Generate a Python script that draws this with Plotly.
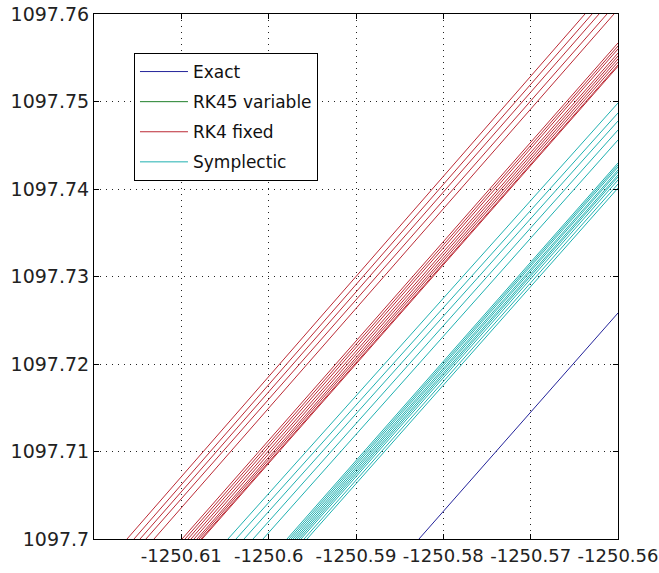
import plotly.graph_objects as go

# Axis ticks
x_tick_vals = [-1250.61, -1250.60, -1250.59, -1250.58, -1250.57, -1250.56]
x_tick_text = ["-1250.61", "-1250.6", "-1250.59", "-1250.58", "-1250.57", "-1250.56"]
y_tick_vals = [1097.70, 1097.71, 1097.72, 1097.73, 1097.74, 1097.75, 1097.76]
y_tick_text = ["1097.7", "1097.71", "1097.72", "1097.73", "1097.74", "1097.75", "1097.76"]

# Exact (one pass through the window): start/end points of segments
exact_x0 = [-1250.58279]
exact_y0 = [1097.70]
exact_x1 = [-1250.56]
exact_y1 = [1097.72583]

# RK45 variable: no pass visible inside this window
rk45_x0, rk45_y0, rk45_x1, rk45_y1 = [None], [None], [None], [None]

# RK4 fixed: passes through the window
rk4_x0 = [-1250.61622, -1250.61542, -1250.61473, -1250.61405, -1250.61313,
          -1250.60992, -1250.60958, -1250.60924, -1250.60889, -1250.60855,
          -1250.60821, -1250.60798, -1250.60775, -1250.60762]
rk4_y0 = [1097.70] * 14
rk4_x1 = [-1250.56378, -1250.56297, -1250.56217, -1250.56126, -1250.56046,
          -1250.56, -1250.56, -1250.56, -1250.56, -1250.56,
          -1250.56, -1250.56, -1250.56, -1250.56]
rk4_y1 = [1097.76, 1097.76, 1097.76, 1097.76, 1097.76,
          1097.75669, 1097.75634, 1097.75600, 1097.75554, 1097.75520,
          1097.75486, 1097.75451, 1097.75417, 1097.75402]

# Symplectic: passes through the window
sym_x0 = [-1250.60466, -1250.60374, -1250.60282, -1250.60179, -1250.60065,
          -1250.59790, -1250.59767, -1250.59744, -1250.59721, -1250.59698,
          -1250.59676, -1250.59653, -1250.59630, -1250.59595, -1250.59561]
sym_y0 = [1097.70] * 15
sym_x1 = [-1250.56] * 15
sym_y1 = [1097.74983, 1097.74869, 1097.74777, 1097.74674, 1097.74560,
          1097.74297, 1097.74274, 1097.74251, 1097.74217, 1097.74194,
          1097.74160, 1097.74137, 1097.74103, 1097.74057, 1097.74011]


def segs(x0, y0, x1, y1):
    xs, ys = [], []
    for a, b, c, d in zip(x0, y0, x1, y1):
        xs += [a, c, None]
        ys += [b, d, None]
    return xs, ys


series = [
    ("Exact", "#23239a", (exact_x0, exact_y0, exact_x1, exact_y1)),
    ("RK45 variable", "#1f7f2a", (rk45_x0, rk45_y0, rk45_x1, rk45_y1)),
    ("RK4 fixed", "#bb2a35", (rk4_x0, rk4_y0, rk4_x1, rk4_y1)),
    ("Symplectic", "#1fb0b0", (sym_x0, sym_y0, sym_x1, sym_y1)),
]

fig = go.Figure()
for name, color, pts in series:
    xs, ys = segs(*pts)
    fig.add_trace(go.Scatter(x=xs, y=ys, mode="lines", name=name,
                             legendgroup=name, showlegend=True,
                             line=dict(color=color, width=1)))

axis_common = dict(
    showline=True, linecolor="black", linewidth=1, mirror="ticks",
    ticks="inside", ticklen=5, tickcolor="black",
    showgrid=True, gridcolor="#222222", gridwidth=1, griddash="1px,5px",
    zeroline=False, automargin=False,
)

fig.update_xaxes(range=[-1250.62, -1250.56], tickvals=x_tick_vals,
                 ticktext=x_tick_text, tickangle=0,
                 tickfont=dict(family="DejaVu Sans", size=18, color="#222222"),
                 **axis_common)
fig.update_yaxes(range=[1097.70, 1097.76], tickvals=y_tick_vals,
                 ticktext=y_tick_text,
                 tickfont=dict(family="DejaVu Sans", size=19, color="#222222"),
                 **axis_common)

fig.update_layout(
    width=659, height=573,
    margin=dict(l=94, r=41, t=14, b=34),
    paper_bgcolor="white", plot_bgcolor="white",
    showlegend=True,
    legend=dict(x=0.0763, y=0.9257, xanchor="left", yanchor="top",
                bgcolor="white", bordercolor="black", borderwidth=1,
                font=dict(family="DejaVu Sans", size=17, color="#111111"),
                tracegroupgap=5, itemwidth=48),
)

fig.write_html("out.html")
